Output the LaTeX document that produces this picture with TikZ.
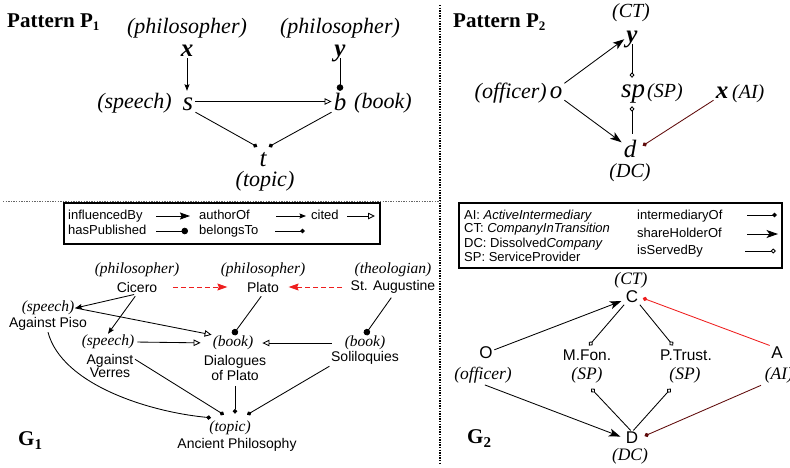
\documentclass[tikz,border=0pt]{standalone}
\usepackage{fontspec}
\setmainfont{Liberation Serif}
\setsansfont{Liberation Sans}
\usetikzlibrary{arrows.meta}

\definecolor{linkred}{RGB}{238,30,30}
\definecolor{darkline}{RGB}{95,10,10}

\begin{document}
\begin{tikzpicture}[x=1pt,y=-1pt,
  every node/.style={inner sep=2pt},
  ttl/.style={font=\fontsize{21}{21}\selectfont\bfseries, anchor=base west, inner sep=0pt},
  plab/.style={font=\fontsize{22}{22}\selectfont\itshape, inner sep=1pt},
  pvar/.style={font=\fontsize{25}{25}\selectfont\itshape, text height=17pt, text depth=0pt, anchor=base},
  pbvar/.style={pvar, font=\fontsize{25}{25}\selectfont\bfseries\itshape},
  glab/.style={font=\fontsize{15.5}{15.5}\selectfont\itshape, inner sep=1pt},
  gname/.style={font=\sffamily\fontsize{14}{13}\selectfont, align=center, inner sep=1.5pt},
  hlab/.style={font=\fontsize{17.5}{17.5}\selectfont\itshape, inner sep=1pt},
  hname/.style={font=\sffamily\fontsize{15.5}{15.5}\selectfont, inner sep=1.5pt},
  hent/.style={font=\sffamily\fontsize{17}{17}\selectfont, inner sep=1.5pt},
  lgd/.style={font=\sffamily\fontsize{13}{13}\selectfont, anchor=base west, inner sep=0pt},
  legendbox/.style={draw, line width=1.2pt},
  divider/.style={line width=1.3pt, dash pattern=on 1.3pt off 1.3pt},
  conn/.style={line width=0.85pt},
  infl/.style={conn, -{Stealth[length=10pt,width=7pt,inset=1.5pt]}},
  share/.style={conn, -{Stealth[length=11.5pt,width=8pt,inset=3pt]}},
  auth/.style={conn, -{Stealth[length=6.5pt,width=5pt,inset=1pt]}},
  cited/.style={conn, -{Triangle[open,length=7pt,width=6.5pt]}},
  haspub/.style={conn, -{Circle[length=6.5pt]}},
  belongs/.style={conn, -{Diamond[length=5pt,width=4.6pt]}},
  served/.style={conn, -{Diamond[open,length=5.5pt,width=5pt]}},
  reddash/.style={dash pattern=on 5pt off 3pt},
]
\useasboundingbox (0,0) rectangle (790,467);

% section dividers
\draw[divider] (440,5) -- (440,464);
\draw[divider, black!60, line width=1pt] (3,201) -- (440,201);

% ---------------- Pattern P1 ----------------
\node[ttl] (p1title) at (7,27) {Pattern P\raisebox{-3pt}{\fontsize{13}{13}\selectfont 1}};
\node[plab] (lx) at (187,28) {(philosopher)};
\node[pbvar, text height=12pt] (x) at (187,56) {x};
\node[plab] (ly) at (340,28) {(philosopher)};
\node[pbvar, text height=12pt] (y) at (340,56) {y};
\node[pvar, font=\fontsize{27}{27}\selectfont\itshape] (s) at (188,110) {s};
\node[plab, anchor=east] (ls) at (173,103) {(speech)};
\node[pvar] (b) at (340,110) {b};
\node[plab, anchor=west] (lb) at (353,103) {(book)};
\node[pvar] (t) at (263,166) {t};
\node[plab] (lt) at (265,181) {(topic)};

\draw[auth] (x) -- (x |- s.north);
\draw[haspub] (y) -- (y |- b.north);
\draw[cited] (s) -- (b);
\draw[belongs] (s.south east) -- (t.north west);
\draw[belongs] (b.south west) -- (t.north east);

% ---------------- Pattern P2 ----------------
\node[ttl] (p2title) at (453,27) {Pattern P\raisebox{-3pt}{\fontsize{13}{13}\selectfont 2}};
\node[plab, font=\fontsize{20}{20}\selectfont\itshape] (lyc) at (631,13) {(CT)};
\node[pbvar] (y2) at (632,42) {y};
\node[pvar] (o) at (556,98) {o};
\node[plab, anchor=base east] (lo) at (548,98) {(officer)};
\node[pvar, font=\fontsize{27}{27}\selectfont\itshape] (sp) at (633,97) {sp};
\node[plab, anchor=base west, font=\fontsize{20}{20}\selectfont\itshape] (lsp) at (646,97) {(SP)};
\node[pbvar] (x2) at (722,98) {x};
\node[plab, anchor=base west, font=\fontsize{20}{20}\selectfont\itshape] (lx2) at (731,98) {(AI)};
\node[pvar] (d) at (630,157) {d};
\node[plab, font=\fontsize{20}{20}\selectfont\itshape] (ld) at (630,173) {(DC)};

\draw[share] (o) -- (y2);
\draw[served] (y2) -- (y2 |- sp.north);
\draw[served, shorten <=4pt, shorten >=7pt] (d.north -| y2) -- (y2 |- sp.south);
\draw[share] (o.south east) -- (d);
\draw[belongs, darkline, shorten >=5pt] (x2.south west) -- (d.east);

% ---------------- Legend G1 ----------------
\draw[legendbox] (64,203) rectangle (380,244);
\node[lgd] (k1) at (68,219) {influencedBy};
\node[lgd] (k2) at (199,219) {authorOf};
\node[lgd] (k3) at (311,219) {cited};
\node[lgd] (k4) at (68,234) {hasPublished};
\node[lgd] (k5) at (199,234) {belongsTo};
\coordinate (k1a) at (156,216); \coordinate (k1b) at (190,216);
\coordinate (k2a) at (276,216); \coordinate (k2b) at (306,216);
\coordinate (k3a) at (347,216); \coordinate (k3b) at (375,216);
\coordinate (k4a) at (156,231); \coordinate (k4b) at (188,231);
\coordinate (k5a) at (275,231); \coordinate (k5b) at (305,231);
\draw[infl] (k1a) -- (k1b);
\draw[auth] (k2a) -- (k2b);
\draw[cited] (k3a) -- (k3b);
\draw[haspub] (k4a) -- (k4b);
\draw[belongs] (k5a) -- (k5b);

% ---------------- Graph G1 ----------------
\node[glab] (lcic) at (137,270) {(philosopher)};
\node[gname] (cicero) at (137,287) {Cicero};
\node[glab] (lpla) at (263,270) {(philosopher)};
\node[gname] (plato) at (263,287) {Plato};
\node[glab] (laug) at (393,270) {(theologian)};
\node[gname] (aug) at (393,287) {St. Augustine};
\node[glab] (lpiso) at (48,308) {(speech)};
\node[gname] (piso) at (48,324) {Against Piso};
\node[glab] (lverres) at (108,342) {(speech)};
\node[gname] (verres) at (110,366) {Against\\Verres};
\node[glab] (ldial) at (233,343) {(book)};
\node[gname] (dial) at (235,368) {Dialogues\\of Plato};
\node[glab] (lsolil) at (365,343) {(book)};
\node[gname] (solil) at (365,358) {Soliloquies};
\node[glab] (lanc) at (230,428) {(topic)};
\node[gname] (anc) at (237,445) {Ancient Philosophy};
\node[ttl] (g1) at (18,445) {G\raisebox{-4pt}{\fontsize{15}{15}\selectfont 1}};

\draw[infl, linkred, reddash, shorten <=14pt, shorten >=18pt] (cicero) -- (plato);
\draw[infl, linkred, reddash, shorten <=7pt, shorten >=8pt] (aug) -- (plato);
\draw[auth, shorten <=3pt] (cicero.south) -- (lpiso.east);
\draw[auth, shorten <=3pt] (cicero.south) -- (lverres.north);
\draw[cited] (lpiso.east) -- (ldial.north west);
\draw[cited, shorten <=2pt, shorten >=11pt] (lverres.east) -- (ldial.west);
\draw[haspub, shorten <=3pt] (plato.south) -- (ldial.north);
\draw[haspub, shorten <=3pt] (aug.south) -- (lsolil.north);
\draw[cited, shorten <=12pt, shorten >=8pt] (lsolil.west) -- (ldial.east);
\draw[belongs] (piso.south) .. controls (62,385) and (150,412) .. ([xshift=3pt,yshift=2pt]lanc.north west);
\draw[belongs] (verres.15) -- ([xshift=-6pt,yshift=5pt]lanc.north);
\draw[belongs, shorten <=4pt] (dial.south) -- ([yshift=6pt]dial.south |- lanc.north);
\draw[belongs] (solil.south west) -- ([xshift=17pt,yshift=5pt]lanc.north);

% ---------------- Legend G2 ----------------
\draw[legendbox] (459,203) rectangle (782,268);
\node[lgd] (c1) at (464,219) {AI: \textit{ActiveIntermediary}};
\node[lgd] (c2) at (464,232) {CT: \textit{CompanyInTransition}};
\node[lgd] (c3) at (464,247) {DC: Dissolved\textit{Company}};
\node[lgd] (c4) at (464,261) {SP: ServiceProvider};
\node[lgd] (r1) at (637,219) {intermediaryOf};
\node[lgd] (r2) at (637,237) {shareHolderOf};
\node[lgd] (r3) at (637,254) {isServedBy};
\coordinate (r1a) at (747,215); \coordinate (r1b) at (777,215);
\coordinate (r2a) at (747,234); \coordinate (r2b) at (778,234);
\coordinate (r3a) at (745,251); \coordinate (r3b) at (776,251);
\draw[belongs] (r1a) -- (r1b);
\draw[share] (r2a) -- (r2b);
\draw[served] (r3a) -- (r3b);

% ---------------- Graph G2 ----------------
\node[hlab] (lc) at (631,280) {(CT)};
\node[hent] (C) at (632,297) {C};
\node[hent] (O) at (486,353) {O};
\node[hlab] (lO) at (483,375) {(officer)};
\node[hname] (MF) at (587,355) {M.Fon.};
\node[hlab] (lMF) at (587,375) {(SP)};
\node[hname] (PT) at (686,355) {P.Trust.};
\node[hlab] (lPT) at (685,375) {(SP)};
\node[hent] (A) at (777,353) {A};
\node[hlab] (lA) at (779,375) {(AI)};
\node[hent] (D) at (632,438) {D};
\node[hlab] (lD) at (630,456) {(DC)};
\node[ttl] (g2) at (467,443) {G\raisebox{-4pt}{\fontsize{15}{15}\selectfont 2}};

\draw[share, shorten >=3pt] (O) -- (C);
\draw[served, shorten >=3pt] (C.south west) -- (MF.north);
\draw[served, shorten >=3pt] (C.south east) -- (PT.147);
\draw[belongs, linkred, shorten >=3pt] (A.north west) -- (C.east);
\draw[share, shorten <=2pt, shorten >=4pt] (lO.south) -- (D.west);
\draw[served, shorten >=6pt] (D.100) -- (lMF.south);
\draw[served, shorten >=6pt] (D.80) -- (lPT.-138);
\draw[belongs, darkline, shorten <=3pt, shorten >=5pt] (lA.south west) -- (D.east);
\end{tikzpicture}
\end{document}
